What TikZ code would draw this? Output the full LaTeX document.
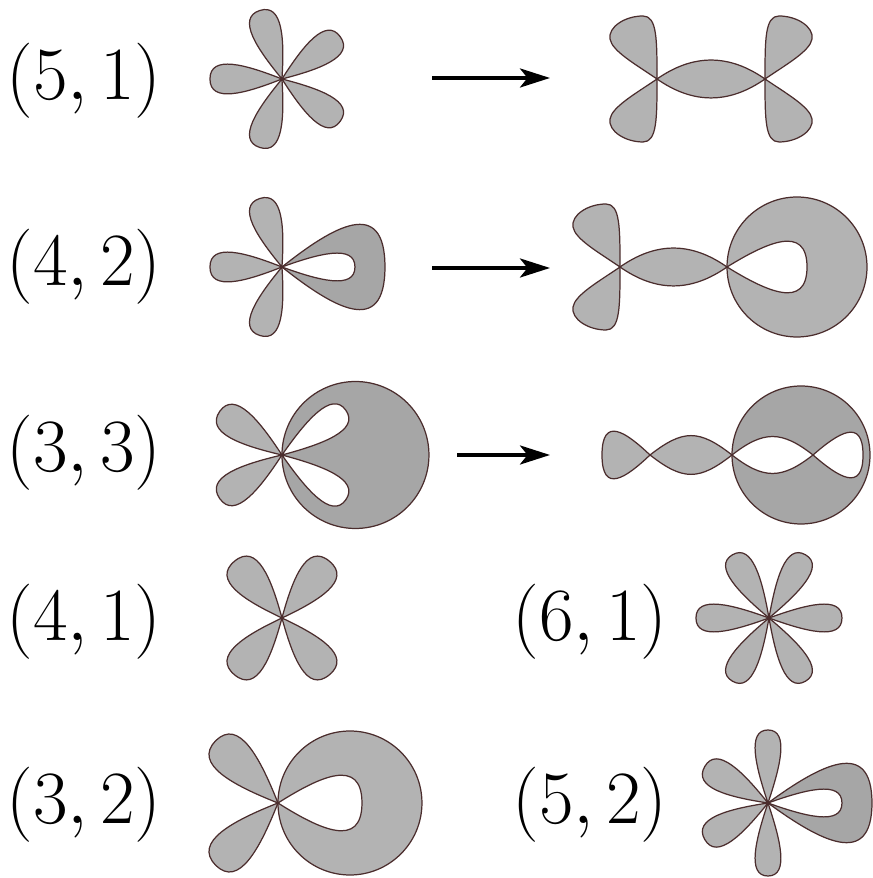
\documentclass[tikz,border=0pt]{standalone}
\usetikzlibrary{positioning,arrows.meta}

\definecolor{edgec}{RGB}{75,45,45}
\definecolor{lightg}{RGB}{179,179,179}
\definecolor{darkg}{RGB}{166,166,166}

\tikzstyle{arrow} = [line width=2.2pt,-{Stealth[length=0.6cm,width=0.38cm,inset=0.15cm]}]
\tikzstyle{lobe} = [draw=edgec, line width=0.7pt, fill=lightg]
\tikzstyle{darklobe} = [draw=edgec, line width=0.7pt, fill=darkg]
\tikzstyle{hole} = [draw=edgec, line width=0.7pt, fill=white]
\tikzstyle{pair} = [font=\Huge, scale=1.72, transform shape, inner sep=0pt]

% #1 style, #2 centre, #3 angle, #4 length, #5 half width
\newcommand{\petal}[5][lobe]{%
    \draw[#1, shift={(#2)}, rotate=#3] (0,0)
        .. controls (0.5*#4,0.95*#5) and (#4,1.65*#5) .. (#4,0)
        .. controls (#4,-1.65*#5) and (0.5*#4,-0.95*#5) .. (0,0) -- cycle;}
% #1 node, #2 xscale, #3 yscale
\newcommand{\sidepetal}[3]{%
    \draw[lobe, shift={(#1)}, xscale=#2, yscale=#3] (0,0)
        .. controls (0,40) and (0,63) .. (-14,63)
        .. controls (-32,63) and (-49,52) .. (-47,40)
        .. controls (-45,28) and (-22,15) .. (0,0) -- cycle;}

\begin{document}
\begin{tikzpicture}[x=0.02cm, y=0.02cm, node distance=3.96cm]
    \useasboundingbox (0,0) rectangle (872,878);

    % (5,1)
    \node [pair] (lab51) at (84,797) {$(5,1)$};
    \coordinate [right of=lab51, yshift=0.04cm] (c51);
    \foreach \a in {36,108,180,252,324} {\petal{c51}{\a}{72}{15}}
    \coordinate (s51) at (432,800);
    \coordinate (t51) at (550,800);
    \draw [arrow] (s51) -- (t51);
    \coordinate (r51a) at (657,799);
    \coordinate (r51b) at (765,799);
    \draw [lobe] (r51a) .. controls +(35:44) and +(145:44) .. (r51b)
        .. controls +(-145:44) and +(-35:44) .. (r51a) -- cycle;
    \sidepetal{r51a}{1}{1} \sidepetal{r51a}{1}{-1}
    \sidepetal{r51b}{-1}{1} \sidepetal{r51b}{-1}{-1}

    % (4,2)
    \node [pair] (lab42) at (84,611) {$(4,2)$};
    \coordinate [right of=lab42] (c42);
    \petal[darklobe]{c42}{0}{103}{43}
    \petal[hole]{c42}{0}{73}{14}
    \foreach \a in {108,180,252} {\petal{c42}{\a}{72}{15}}
    \coordinate (s42) at (432,610);
    \coordinate (t42) at (550,610);
    \draw [arrow] (s42) -- (t42);
    \coordinate (r42a) at (620,611);
    \coordinate (r42b) at (727,611);
    \draw [lobe] (r42a) .. controls +(35:44) and +(145:44) .. (r42b)
        .. controls +(-145:44) and +(-35:44) .. (r42a) -- cycle;
    \sidepetal{r42a}{1}{1} \sidepetal{r42a}{1}{-1}
    \draw [lobe] (r42b) ++(70,0) circle (1.4cm);
    \petal[hole]{r42b}{0}{80}{26}

    % (3,3)
    \node [pair] (lab33) at (84,425) {$(3,3)$};
    \coordinate [right of=lab33, yshift=-0.04cm] (c33);
    \draw [darklobe] (c33) ++(73.5,0) circle (1.47cm);
    \petal[hole]{c33}{35}{78}{15}
    \petal[hole]{c33}{-35}{78}{15}
    \petal{c33}{145}{76}{16}
    \petal{c33}{215}{76}{16}
    \coordinate (s33) at (457,423);
    \coordinate (t33) at (550,423);
    \draw [arrow] (s33) -- (t33);
    \coordinate (r33a) at (650,423);
    \coordinate (r33b) at (732,423);
    \coordinate (r33x) at (813,423);
    \petal{r33a}{180}{48}{24}
    \draw [lobe] (r33a) .. controls +(38:42) and +(142:42) .. (r33b)
        .. controls +(-142:42) and +(-38:42) .. (r33a) -- cycle;
    \draw [darklobe] (r33b) ++(69,0) circle (1.38cm);
    \draw [hole] (r33b) .. controls +(38:40) and +(142:40) .. (r33x)
        .. controls +(-142:40) and +(-38:40) .. (r33b) -- cycle;
    \petal[hole]{r33x}{0}{50}{23}

    % (4,1) and (6,1)
    \node [pair] (lab41) at (84,256) {$(4,1)$};
    \coordinate [right of=lab41, yshift=0.08cm] (c41);
    \foreach \a in {50,130,230,310} {\petal{c41}{\a}{74}{18}}
    \node [pair] (lab61) at (590,256) {$(6,1)$};
    \coordinate [right of=lab61, xshift=-0.38cm, yshift=0.08cm] (c61);
    \foreach \a in {0,60,...,300} {\petal{c61}{\a}{73}{14}}

    % (3,2) and (5,2)
    \node [pair] (lab32) at (84,73) {$(3,2)$};
    \coordinate [right of=lab32, xshift=-0.08cm, yshift=0.04cm] (c32);
    \draw [lobe] (c32) ++(72,0) circle (1.44cm);
    \petal[hole]{c32}{0}{84}{28}
    \petal{c32}{135}{88}{20}
    \petal{c32}{225}{88}{20}
    \node [pair] (lab52) at (590,73) {$(5,2)$};
    \coordinate [right of=lab52, xshift=-0.4cm, yshift=0.04cm] (c52);
    \petal[darklobe]{c52}{0}{104}{40}
    \petal[hole]{c52}{0}{74}{14}
    \petal{c52}{90}{73}{13}
    \petal{c52}{270}{73}{13}
    \petal{c52}{150}{73}{15}
    \petal{c52}{210}{73}{15}
\end{tikzpicture}
\end{document}
